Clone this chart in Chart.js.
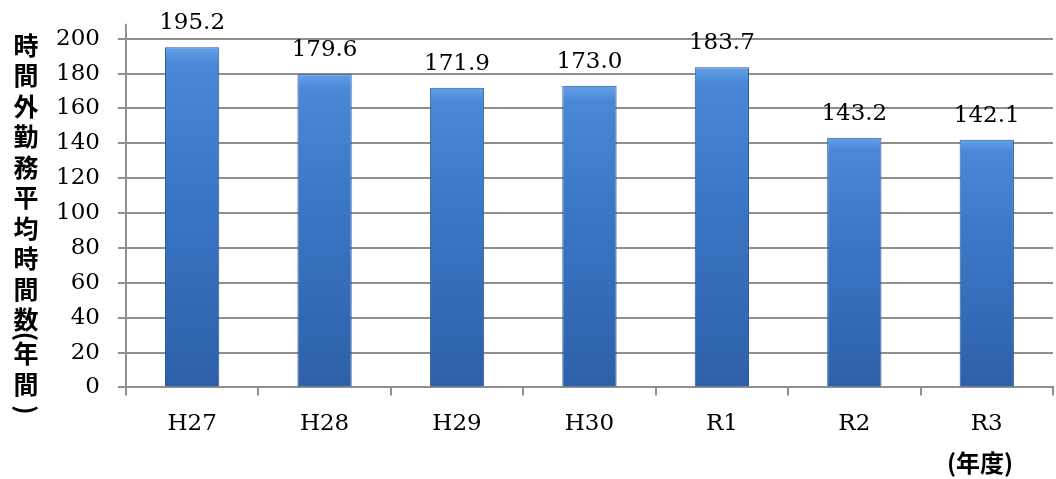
<!DOCTYPE html>
<html>
<head>
<meta charset="utf-8">
<script src="https://cdn.jsdelivr.net/npm/chart.js@4/dist/chart.umd.min.js"></script>
<style>
  html, body { margin: 0; padding: 0; background: #fff; }
  #wrap { width: 1056px; height: 479px; }
</style>
</head>
<body>
<div id="wrap"><canvas id="grafico" width="1056" height="479"></canvas></div>
<script>
// 年度と時間外勤務平均時間数
const categorias = ['H27', 'H28', 'H29', 'H30', 'R1', 'R2', 'R3'];
const horas = [195.2, 179.6, 171.9, 173.0, 183.7, 143.2, 142.1];
const ticksY = [0, 20, 40, 60, 80, 100, 120, 140, 160, 180, 200];

const tituloY = '時間外勤務平均時間数(年間)';
const tituloX = '(年度)';

const serif = '"DejaVu Serif", "Liberation Serif", serif';
const gotica = '"Noto Sans CJK JP", "Noto Sans", sans-serif';

// degradado vertical por barra
function colorBarra(context) {
    const chart = context.chart;
    if (!chart.chartArea || context.raw == null) return '#3b77c6';
    const y = chart.scales.y;
    const top = y.getPixelForValue(context.raw);
    const bottom = y.getPixelForValue(0);
    const g = chart.ctx.createLinearGradient(0, top, 0, bottom);
    g.addColorStop(0, '#62a0e8');
    g.addColorStop(0.05, '#4a87d6');
    g.addColorStop(0.4, '#3b77c7');
    g.addColorStop(1, '#2d60a8');
    return g;
}

// etiquetas encima de las barras + titulos
const textos = {
    id: 'textos',
    afterDatasetsDraw(chart) {
        const ctx = chart.ctx;
        const meta = chart.getDatasetMeta(0);
        ctx.save();
        ctx.fillStyle = '#000';
        ctx.font = '23px ' + serif;
        ctx.textAlign = 'center';
        ctx.textBaseline = 'middle';
        meta.data.forEach((bar, i) => {
            ctx.fillText(horas[i].toFixed(1), bar.x, bar.y - 24);
        });
        // el eje Y sube un poco por encima del area
        const ejeX = chart.scales.y.right;
        ctx.strokeStyle = '#8f8f8f';
        ctx.lineWidth = 2;
        ctx.beginPath();
        ctx.moveTo(ejeX, chart.chartArea.top - 8);
        ctx.lineTo(ejeX, chart.chartArea.top + 1);
        ctx.stroke();
        ctx.restore();
    },
    afterDraw(chart) {
        const ctx = chart.ctx;
        ctx.save();
        ctx.fillStyle = '#000';
        ctx.textAlign = 'center';
        ctx.textBaseline = 'middle';
        ctx.font = 'bold 25px ' + gotica;
        // titulo vertical
        let y = 45;
        const x = 26;
        const chars = Array.from(tituloY);
        chars.forEach((c, i) => {
            const paren = c === '(' || c === ')';
            if (i > 0) {
                const prev = chars[i - 1];
                if (c === ')') y += 26;
                else if (paren || prev === '(' ) y += 17;
                else y += 30.5;
            }
            if (paren) {
                ctx.save();
                ctx.translate(x, y);
                ctx.rotate(Math.PI / 2);
                ctx.fillText(c, 0, 0);
                ctx.restore();
            } else {
                ctx.fillText(c, x, y);
            }
        });
        // (年度)
        ctx.font = 'bold 24px ' + gotica;
        ctx.fillText(tituloX, 980, 463);
        ctx.restore();
    }
};

new Chart(document.getElementById('grafico').getContext('2d'), {
    type: 'bar',
    data: {
        labels: categorias,
        datasets: [{
            data: horas,
            backgroundColor: colorBarra,
            borderColor: '#2a5697',
            borderWidth: 1,
            barPercentage: 0.41,
            categoryPercentage: 1
        }]
    },
    options: {
        responsive: false,
        animation: false,
        layout: { padding: { left: 38, top: 8, right: 3, bottom: 26 } },
        plugins: {
            legend: { display: false },
            tooltip: { enabled: false }
        },
        scales: {
            x: {
                grid: {
                    offset: true,
                    drawOnChartArea: false,
                    color: '#8f8f8f',
                    lineWidth: 2,
                    tickLength: 8
                },
                border: { color: '#8f8f8f', width: 2 },
                ticks: {
                    color: '#000',
                    font: { family: serif, size: 23 },
                    padding: 15,
                    maxRotation: 0
                }
            },
            y: {
                min: 0,
                max: 204,
                afterBuildTicks: (scale) => {
                    scale.ticks = ticksY.map(v => ({ value: v }));
                },
                grid: {
                    color: '#8f8f8f',
                    lineWidth: 2,
                    tickLength: 8
                },
                border: { color: '#8f8f8f', width: 2 },
                ticks: {
                    color: '#000',
                    font: { family: serif, size: 23 },
                    padding: 18
                }
            }
        }
    },
    plugins: [textos]
});
</script>
</body>
</html>
